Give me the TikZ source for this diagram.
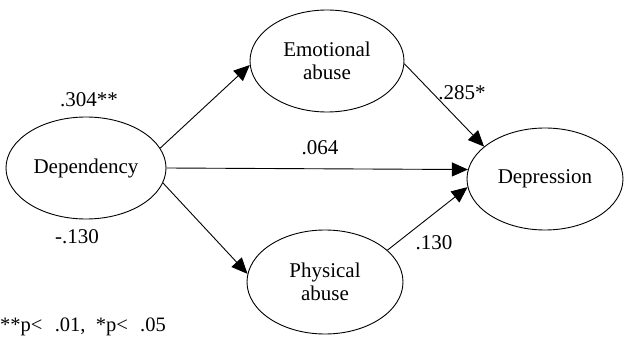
\documentclass[tikz,border=0pt]{standalone}
\usepackage{fontspec}
\setmainfont{Liberation Serif}
\usetikzlibrary{shapes.geometric,arrows.meta}
\tikzset{
  var/.style={draw, ellipse, inner sep=0pt, line width=0.9pt, align=center,
    font=\fontsize{21}{23}\selectfont},
  path/.style={line width=0.9pt, -{Triangle[length=16pt,width=14pt]}},
  coef/.style={font=\fontsize{21}{23}\selectfont, inner sep=0pt}
}
\begin{document}
\begin{tikzpicture}[x=1pt,y=1pt]
\useasboundingbox (0,0) rectangle (625,338);
\node[var, minimum width=160, minimum height=102] (dep) at (86,170) {Dependency};
\node[var, minimum width=154, minimum height=102] (emo) at (327,277) {Emotional\\abuse};
\node[var, minimum width=156, minimum height=102] (depr) at (545,159) {Depression};
\node[var, minimum width=156, minimum height=104] (phy) at (325,56) {Physical\\abuse};

\draw[path] (dep.15) -- (emo.183);
\draw[path] (dep.east) -- (depr.173);
\draw[path] (dep.-11) -- (phy.174);
\draw[path] (emo.-2) -- (depr.152);
\draw[path] (phy.27) -- (depr.186);

\node[coef] (l1) at (89,238) {.304**};
\node[coef] (l2) at (462,245) {.285*};
\node[coef] (l3) at (320,190) {.064};
\node[coef] (l4) at (77,101) {-.130};
\node[coef] (l5) at (434,95) {.130};
\node[coef, anchor=west, font=\fontsize{20.5}{23}\selectfont] (fn) at (0,11) {**p<\hspace{0.6em}.01,\hspace{0.5em}*p<\hspace{0.6em}.05};
\end{tikzpicture}
\end{document}
